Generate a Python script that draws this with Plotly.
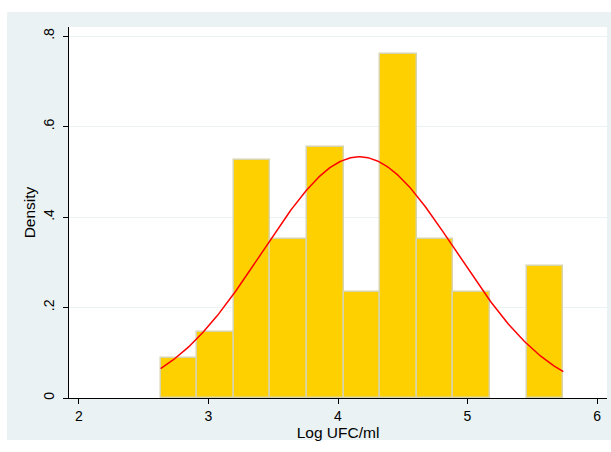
import numpy as np
import plotly.graph_objects as go

# ---- data ----
bin_start = 2.63
bin_width = 0.2827
densities = [0.088, 0.146, 0.526, 0.351, 0.555, 0.234, 0.760, 0.351, 0.234, 0.0, 0.292]
norm_mean = 4.165
norm_sd = 0.7485
x_ticks = [2, 3, 4, 5, 6]
y_ticks = [0, 0.2, 0.4, 0.6, 0.8]
y_tick_labels = ["0", ".2", ".4", ".6", ".8"]
x_title = "Log UFC/ml"
y_title = "Density"

centers = [bin_start + bin_width * (i + 0.5) for i in range(len(densities))]
x_lo = bin_start
x_hi = bin_start + bin_width * len(densities)
xs = np.linspace(x_lo, x_hi, 300)
ys = np.exp(-0.5 * ((xs - norm_mean) / norm_sd) ** 2) / (norm_sd * np.sqrt(2 * np.pi))

fig = go.Figure()
fig.add_trace(go.Bar(
    x=centers, y=densities, width=[bin_width] * len(densities),
    marker=dict(color="rgb(255,208,0)",
                line=dict(color="rgb(216,212,172)",
                          width=[1.5 if d > 0 else 0 for d in densities])),
    showlegend=False, hoverinfo="skip",
))
fig.add_trace(go.Scatter(
    x=xs, y=ys, mode="lines", line=dict(color="rgb(255,0,0)", width=1.5),
    showlegend=False, hoverinfo="skip",
))

W, H = 611, 452
L, R, T, B = 69, 4, 27, 54
pw = W - L - R
ph = H - T - B

def px_x(p):
    return (p - L) / pw

def px_y(p):
    return (H - B - p) / ph

# outer light frame, then white plot region on top of it
fig.add_shape(type="rect", xref="paper", yref="paper",
              x0=px_x(7), x1=px_x(611), y0=px_y(440), y1=px_y(12),
              fillcolor="rgb(234,242,243)", line=dict(width=0), layer="below")
fig.add_shape(type="rect", xref="paper", yref="paper",
              x0=0, x1=1, y0=0, y1=1,
              fillcolor="white", line=dict(width=0), layer="below")

font_family = "Liberation Sans, Arial, sans-serif"
fig.update_layout(
    width=W, height=H,
    margin=dict(l=L, r=R, t=T, b=B, pad=0, autoexpand=False),
    paper_bgcolor="white", plot_bgcolor="white",
    bargap=0,
    font=dict(family=font_family, size=14, color="black"),
    xaxis=dict(
        range=[1.923, 6.077], tickvals=x_ticks, ticks="outside", ticklen=5,
        tickcolor="black", showgrid=False, zeroline=False, showline=True,
        linecolor="black", linewidth=1, automargin=False,
        title=dict(text=x_title, font=dict(size=15.5), standoff=1),
        tickfont=dict(size=14),
    ),
    yaxis=dict(
        range=[0, 0.82], tickvals=y_ticks, ticktext=y_tick_labels, tickangle=-90,
        ticks="outside", ticklen=5, tickcolor="black", automargin=False,
        ticklabelstandoff=3,
        showgrid=True, gridcolor="rgb(234,242,243)", gridwidth=1,
        zeroline=False, showline=True, linecolor="black", linewidth=1,
        title=dict(text=y_title, font=dict(size=15.5), standoff=1),
        tickfont=dict(size=14),
    ),
)

fig.write_html("out.html",
               config={"displayModeBar": False},
               post_script="document.body.style.margin='0';document.body.style.overflow='hidden';")
